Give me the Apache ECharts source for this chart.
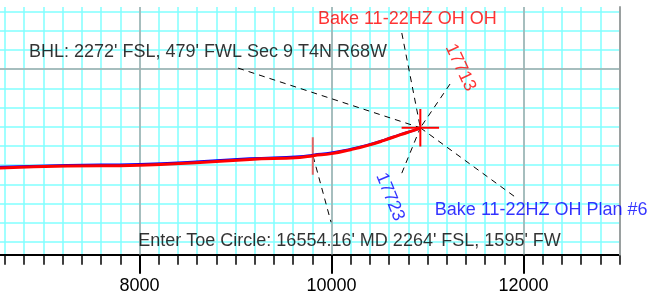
<!DOCTYPE html>
<html>
<head>
<meta charset="utf-8">
<script src="https://cdn.jsdelivr.net/npm/echarts@6/dist/echarts.min.js"></script>
<style>
    html, body { margin: 0; padding: 0; background: #fff; }
    #chart1 { width: 652px; height: 298px; }
</style>
</head>
<body>
<div id="chart1"></div>
<script>
    // well path, easting / northing (ft)
    var actualE = [6500, 7250, 8000, 8630, 9150, 9670, 9810, 10000, 10200, 10370, 10540, 10720, 10850, 10925];
    var actualN = [-1030, -1010, -1000, -972, -941, -920, -901, -880, -839, -797, -745, -682, -641, -611];
    var planE = [6500, 7250, 8000, 8630, 9150, 9670, 9810, 10000, 10200, 10370, 10540, 10720, 10850, 10925];
    var planN = [-1020, -1001, -990, -963, -932, -911, -893, -872, -833, -792, -742, -680, -640, -611];

    // target (BHL)
    var targetE = 10925;
    var targetN = -611;
    var crossArm = 195;

    // leader lines: start points, all go to the target
    var leaderE = [9027, 10732, 11234, 10732, 11901];
    var leaderN = [10, 375, -156, -1083, -1323];

    // toe circle entry
    var toeE = [9805, 9805];
    var toeN = [-710, -1100];
    var toeLeaderE = [9808, 9995];
    var toeLeaderN = [-906, -1594];

    // annotations
    var noteText = ['Bake 11-22HZ OH OH', "BHL: 2272' FSL, 479' FWL Sec 9 T4N R68W", '17713', '17723',
        'Bake 11-22HZ OH Plan #6', "Enter Toe Circle: 16554.16' MD 2264' FSL, 1595' FW"];
    var noteE = [10789, 8713, 11342, 10610, 12184, 10188];
    var noteN = [519, 175, 16, -1331, -1471, -1786];
    var noteColor = ['#ff0000', '#000000', '#ff0000', '#0000ff', '#0000ff', '#000000'];
    var noteRotate = [0, 0, -65, -68, 0, 0];

    var xMin = 6000, xMax = 13000;
    var yMin = -1932, yMax = 646;
    var fontName = '"Liberation Sans", Arial, sans-serif';

    function pairs(xs, ys) {
        var out = [];
        for (var i = 0; i < xs.length; i++) out.push([xs[i], ys[i]]);
        return out;
    }

    var chart1 = echarts.init(document.getElementById('chart1'));

    var series = [];
    // dashed leaders
    for (var i = 0; i < leaderE.length; i++) {
        series.push({
            type: 'line',
            symbol: 'none',
            silent: true,
            data: [[leaderE[i], leaderN[i]], [targetE, targetN]],
            lineStyle: { color: '#000', width: 1, type: [6, 5] },
            z: 3
        });
    }
    series.push({
        type: 'line',
        symbol: 'none',
        silent: true,
        data: pairs(toeLeaderE, toeLeaderN),
        lineStyle: { color: '#000', width: 1, type: [6, 5] },
        z: 3
    });
    // toe circle marker
    series.push({
        type: 'line',
        symbol: 'none',
        silent: true,
        data: pairs(toeE, toeN),
        lineStyle: { color: '#e06464', width: 2 },
        z: 3
    });
    // plan + actual
    series.push({
        name: 'Plan #6',
        type: 'line',
        symbol: 'none',
        smooth: true,
        data: pairs(planE, planN),
        lineStyle: { color: '#0000ff', width: 2.5 },
        z: 4
    });
    series.push({
        name: 'OH',
        type: 'line',
        symbol: 'none',
        smooth: true,
        data: pairs(actualE, actualN),
        lineStyle: { color: '#ff0000', width: 3 },
        z: 5
    });
    // target cross
    series.push({
        type: 'line',
        symbol: 'none',
        silent: true,
        data: [[targetE - crossArm, targetN], [targetE + crossArm, targetN]],
        lineStyle: { color: '#ff0000', width: 2 },
        z: 6
    });
    series.push({
        type: 'line',
        symbol: 'none',
        silent: true,
        data: [[targetE, targetN + crossArm], [targetE, targetN - crossArm]],
        lineStyle: { color: '#ff0000', width: 2 },
        z: 6
    });
    // text notes
    var noteData = [];
    for (var j = 0; j < noteText.length; j++) {
        noteData.push({
            value: [noteE[j], noteN[j]],
            name: noteText[j],
            label: { color: noteColor[j], rotate: noteRotate[j] }
        });
    }
    series.push({
        type: 'scatter',
        symbolSize: 0,
        silent: true,
        data: noteData,
        label: {
            show: true,
            position: 'inside',
            formatter: '{b}',
            fontFamily: fontName,
            fontSize: 18,
            align: 'center',
            verticalAlign: 'middle'
        },
        z: 7
    });

    var option1 = {
        animation: false,
        grid: [
            { left: -52.6, right: 32.4, top: 7, bottom: 43.3, outerBoundsMode: 'none', containLabel: false },
            { left: -52.6, right: 128.4, top: 7, bottom: 43.3, outerBoundsMode: 'none', containLabel: false }
        ],
        xAxis: [
            {
                type: 'value',
                gridIndex: 0,
                min: xMin,
                max: xMax,
                interval: 200,
                axisLine: { onZero: false, lineStyle: { color: '#000', width: 2 } },
                axisTick: { length: 10, lineStyle: { color: '#000', width: 1.5 } },
                axisLabel: { show: false },
                splitLine: { show: true, showMaxLine: false, lineStyle: { color: '#80ffff', width: 1.5 } }
            },
            {
                type: 'value',
                gridIndex: 1,
                min: xMin,
                max: 12000,
                interval: 2000,
                z: 1,
                axisLine: { show: false, onZero: false },
                axisTick: { show: true, length: 19, lineStyle: { color: '#000', width: 2 } },
                axisLabel: {
                    show: true,
                    margin: 22,
                    color: '#000',
                    fontFamily: fontName,
                    fontSize: 18,
                    formatter: function (v) { return String(v); }
                },
                splitLine: { show: true, lineStyle: { color: '#a8a8a8', width: 1.5 } }
            }
        ],
        yAxis: [
            {
                type: 'value',
                gridIndex: 0,
                min: yMin,
                max: yMax,
                minInterval: 200,
                maxInterval: 200,
                axisLine: { show: false },
                axisTick: { show: false },
                axisLabel: { show: false },
                splitLine: { show: true, showMinLine: false, showMaxLine: false, lineStyle: { color: '#80ffff', width: 1.5 } }
            },
            {
                type: 'value',
                gridIndex: 0,
                position: 'right',
                min: yMin,
                max: yMax,
                minInterval: 2000,
                maxInterval: 2000,
                z: 1,
                axisLine: { show: true, onZero: false, lineStyle: { color: '#9aa0a0', width: 2 } },
                axisTick: { show: false },
                axisLabel: { show: false },
                splitLine: { show: true, showMinLine: false, showMaxLine: false, lineStyle: { color: '#a8a8a8', width: 1.5 } }
            },
            {
                type: 'value',
                gridIndex: 1,
                show: false,
                min: yMin,
                max: yMax,
                splitLine: { show: false }
            }
        ],
        series: series
    };
    chart1.setOption(option1);
</script>
</body>
</html>
